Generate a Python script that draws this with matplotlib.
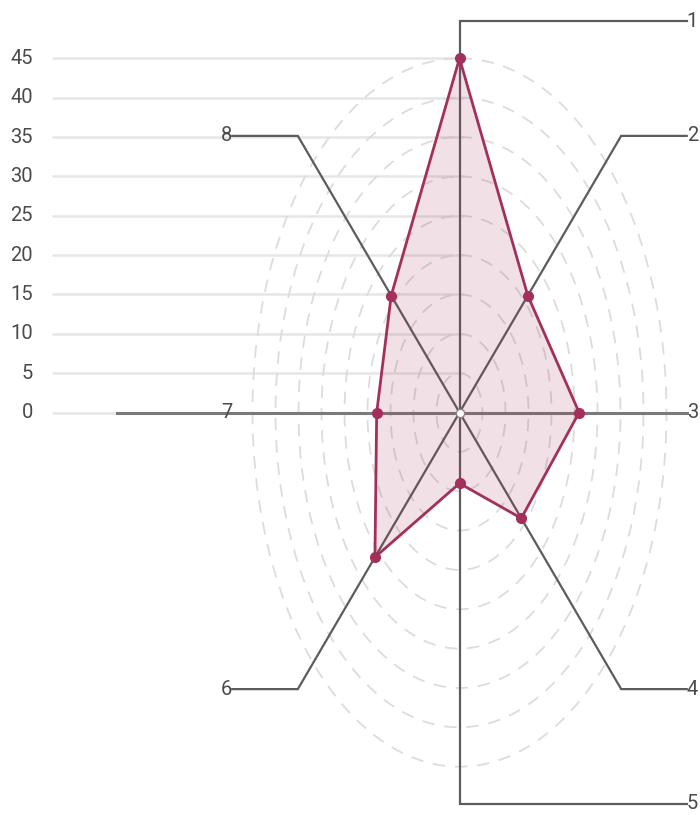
import numpy as np
import matplotlib
matplotlib.use("Agg")
import matplotlib.pyplot as plt

plt.rcParams['font.family'] = ['Roboto', 'DejaVu Sans']
plt.rcParams['lines.scale_dashes'] = False

# data
categories = ['1', '2', '3', '4', '5', '6', '7', '8']
values = [45, 21, 26, 19, 9, 26, 18, 21]
y_ticks = [0, 5, 10, 15, 20, 25, 30, 35, 40, 45]
rings = [5, 10, 15, 20, 25, 30, 35, 40, 45]

# pixel scale of the reference (px per unit)
SX, SY = 4.6, 7.871
CX, CY = 459.5, 412.5
W, H = 700, 815

fig = plt.figure(figsize=(W / 100, H / 100), dpi=100)
ax = fig.add_axes([0, 0, 1, 1])
ax.set_xlim(-CX / SX, (W - CX) / SX)
ax.set_ylim(-(H - CY) / SY, CY / SY)
ax.axis('off')

axis_col = '#5c5c5c'
series_col = '#a3305c'

# horizontal gridlines + y labels
x_left = (52 - CX) / SX
x_lab = (33 - CX) / SX
for t in y_ticks:
    ax.plot([x_left, 1.0], [t, t], color='#e6e6e6', lw=1.8, zorder=1,
            solid_capstyle='butt')
    ax.text(x_lab, t, str(t), ha='right', va='center', fontsize=14.5,
            color='#4a4a4a')

# dashed rings
tt = np.linspace(0, 2 * np.pi, 721)
for r in rings:
    ax.plot(r * np.sin(tt), r * np.cos(tt), color='#dcdcdc', lw=1.3,
            linestyle=(0, (9, 7)), zorder=2)

# spokes with leader lines
R = 49.7
XE = 49.4
n = len(categories)
for i, lab in enumerate(categories):
    th = 2 * np.pi * i / n
    ex, ey = R * np.sin(th), R * np.cos(th)
    if abs(ex) < 1e-6:
        ex = 0.0
    if i == 2:
        xs, ys = [0, XE], [0, 0]
        lx = XE
    elif i == 6:
        xs, ys = [0, (117 - CX) / SX], [0, 0]
        lx = -XE
    else:
        side = 1 if ex >= 0 else -1
        if i in (0, 4):
            side = 1
        xs, ys = [0, ex, side * XE], [0, ey, ey]
        lx = side * XE
    lw = 2.2 if i in (2, 6) else 1.6
    col = '#7a7a7a' if i in (2, 6) else axis_col
    ax.plot(xs, ys, color=col, lw=lw, zorder=3, solid_joinstyle='miter')
    ha = 'left' if lx > 0 else 'right'
    ax.text(lx, ys[-1], lab, ha=ha, va='center', fontsize=14.5,
            color='#4a4a4a')

# series polygon
ang = 2 * np.pi * np.arange(n) / n
px = np.array(values) * np.sin(ang)
py = np.array(values) * np.cos(ang)
ax.fill(np.append(px, px[0]), np.append(py, py[0]), color=series_col,
        alpha=0.15, lw=0, zorder=4)
ax.plot(np.append(px, px[0]), np.append(py, py[0]), color=series_col,
        lw=2, zorder=5)
ax.plot(px, py, 'o', color=series_col, ms=7, zorder=6)

# center marker
ax.plot([0], [0], 'o', ms=6, mfc='white', mec='#888888', mew=1, zorder=6)

fig.savefig('out.png', dpi=100)
